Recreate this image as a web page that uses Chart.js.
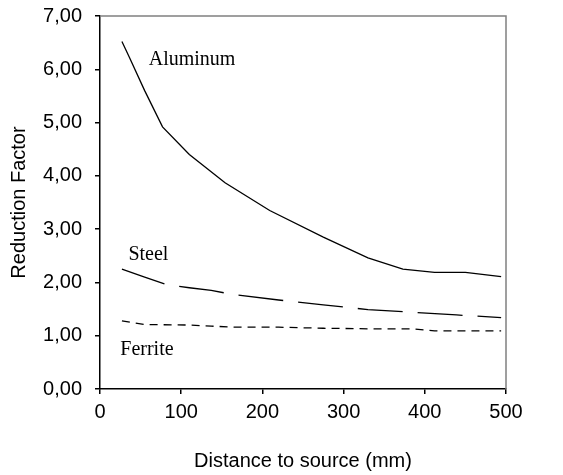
<!DOCTYPE html>
<html>
<head>
<meta charset="utf-8">
<script src="https://cdn.jsdelivr.net/npm/chart.js@4/dist/chart.umd.min.js"></script>
<style>
  body { margin: 0; background: #fff; overflow: hidden; }
  canvas { display: block; }
</style>
</head>
<body>
<canvas id="chart" width="563" height="475"></canvas>
<script>
// distances (mm) and reduction factors
var alumX = [27, 36, 55, 77, 110, 154, 209, 275, 330, 373, 412, 450, 494];
var alumY = [6.52, 6.23, 5.60, 4.92, 4.40, 3.87, 3.35, 2.85, 2.46, 2.25, 2.19, 2.19, 2.11];
var steelX = [27, 55, 82, 110, 137, 165, 220, 275, 330, 384, 439, 494];
var steelY = [2.25, 2.10, 1.96, 1.90, 1.85, 1.77, 1.67, 1.58, 1.49, 1.44, 1.39, 1.34];
var ferriteX = [27, 55, 110, 137, 165, 220, 275, 330, 384, 412, 439, 494];
var ferriteY = [1.28, 1.21, 1.20, 1.18, 1.16, 1.16, 1.14, 1.13, 1.13, 1.09, 1.09, 1.09];

var seriesNames = ['Aluminum', 'Steel', 'Ferrite'];
// where each series name sits, in data units (x mm, y factor at text baseline)
var nameX = [60, 35, 25];
var nameY = [6.08, 2.42, 0.64];

var xTicks = [0, 100, 200, 300, 400, 500];
var yTicks = [0, 1, 2, 3, 4, 5, 6, 7];

function pts(xs, ys) {
	return xs.map(function(x, i) { return {x: x, y: ys[i]}; });
}

Chart.defaults.font.family = '"Liberation Sans", Arial, sans-serif';
Chart.defaults.font.size = 20;
Chart.defaults.color = '#000';

// gray frame on top and right, series names
var extras = {
	id: 'extras',
	afterDraw: function(chart) {
		var c = chart.ctx, a = chart.chartArea;
		c.save();
		c.strokeStyle = '#808080';
		c.lineWidth = 1.5;
		c.beginPath();
		c.moveTo(a.left, a.top);
		c.lineTo(a.right, a.top);
		c.lineTo(a.right, a.bottom);
		c.stroke();
		c.fillStyle = '#000';
		c.font = '20px "Liberation Serif", "Times New Roman", serif';
		c.textBaseline = 'alphabetic';
		c.textAlign = 'left';
		for (var i = 0; i < seriesNames.length; i++) {
			c.fillText(seriesNames[i], chart.scales.x.getPixelForValue(nameX[i]), chart.scales.y.getPixelForValue(nameY[i]));
		}
		c.restore();
	}
};

var ctx = document.getElementById('chart').getContext('2d');
var chart = new Chart(ctx, {
	type: 'line',
	data: {
		datasets: [{
			label: seriesNames[0],
			data: pts(alumX, alumY),
			borderColor: '#000',
			borderWidth: 1.3,
		}, {
			label: seriesNames[1],
			data: pts(steelX, steelY),
			borderColor: '#000',
			borderWidth: 1.3,
			borderDash: [45, 15],
		}, {
			label: seriesNames[2],
			data: pts(ferriteX, ferriteY),
			borderColor: '#000',
			borderWidth: 1.3,
			borderDash: [8, 6],
		}]
	},
	options: {
		responsive: false,
		animation: false,
		events: [],
		elements: { point: { radius: 0 }, line: { tension: 0 } },
		layout: { padding: { top: 16, right: 57, left: 0, bottom: 0 } },
		plugins: { legend: { display: false }, tooltip: { enabled: false } },
		scales: {
			x: {
				type: 'linear',
				min: 0, max: 500,
				afterBuildTicks: function(s) { s.ticks = xTicks.map(function(v) { return {value: v}; }); },
				afterFit: function(s) { s.height = 86; s.paddingLeft = 0; s.paddingRight = 0; },
				ticks: { padding: 6, maxRotation: 0, autoSkip: false },
				grid: { drawOnChartArea: false, drawTicks: true, tickLength: 5, color: '#000', lineWidth: 1.5 },
				border: { display: true, color: '#000', width: 1.5 },
				title: { display: true, text: 'Distance to source (mm)', padding: { top: 0, bottom: 2 } }
			},
			y: {
				type: 'linear',
				min: 0, max: 7,
				afterBuildTicks: function(s) { s.ticks = yTicks.map(function(v) { return {value: v}; }); },
				afterFit: function(s) { s.width = 100; s.paddingTop = 0; s.paddingBottom = 0; },
				ticks: {
					padding: 13,
					callback: function(v) { return v.toFixed(2).replace('.', ','); }
				},
				grid: { drawOnChartArea: false, drawTicks: true, tickLength: 5, color: '#000', lineWidth: 1.5 },
				border: { display: true, color: '#000', width: 1.5 },
				title: { display: true, text: 'Reduction Factor', padding: { top: 7, bottom: 0 } }
			}
		}
	},
	plugins: [extras]
});
</script>
</body>
</html>
